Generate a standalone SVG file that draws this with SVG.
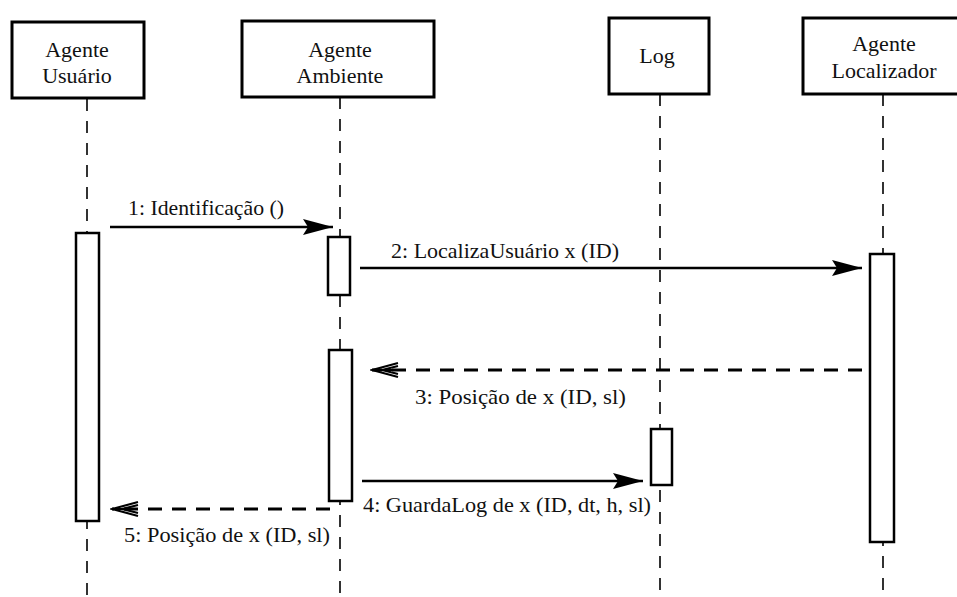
<svg xmlns="http://www.w3.org/2000/svg" width="957" height="597" viewBox="0 0 957 597">
<style>
  .head { fill: #fff; stroke: #000; stroke-width: 3; }
  .act { fill: #fff; stroke: #000; stroke-width: 2.5; }
  .life { stroke: #000; stroke-width: 1.6; stroke-dasharray: 12 10; fill: none; }
  .txt { font-family: "Liberation Serif", "Times New Roman", serif; font-size: 21px; fill: #111; }
  .h { font-size: 22px; }
  .c { text-anchor: middle; }
  .msg { stroke: #000; stroke-width: 2.5; fill: none; }
  .ret { stroke: #000; stroke-width: 3; fill: none; stroke-dasharray: 14 10; }
</style>
<defs>
  <marker id="filled" markerUnits="userSpaceOnUse" markerWidth="32" markerHeight="18" refX="30" refY="9" orient="auto">
    <path d="M0,1 L30,9 L0,17 L5,9 z" fill="#000"/>
  </marker>
  <marker id="open" markerUnits="userSpaceOnUse" markerWidth="30" markerHeight="18" refX="28" refY="9" orient="auto">
    <path d="M2,2 L28,9 L2,16 M28,9 L2,9 M2,5 L18,9 L2,13" fill="none" stroke="#000" stroke-width="2.2"/>
  </marker>
</defs>
<rect width="957" height="597" fill="#fff"/>

<g id="lifelines">
  <line class="life" x1="87" y1="99" x2="87" y2="597"/>
  <line class="life" x1="340" y1="97" x2="340" y2="597"/>
  <line class="life" x1="660" y1="94" x2="660" y2="597"/>
  <line class="life" x1="883" y1="94" x2="883" y2="597"/>
</g>

<g id="agente-usuario">
  <rect class="head" x="12" y="22" width="132" height="76"/>
  <text class="txt h c" x="77" y="57">Agente</text>
  <text class="txt h c" x="77" y="83">Usuário</text>
  <rect class="act" x="76" y="233" width="23" height="288"/>
</g>

<g id="agente-ambiente">
  <rect class="head" x="242" y="21" width="192" height="76"/>
  <text class="txt h c" x="340" y="57">Agente</text>
  <text class="txt h c" x="340" y="83">Ambiente</text>
  <rect class="act" x="328" y="237" width="22" height="58"/>
  <rect class="act" x="329" y="350" width="23" height="151"/>
</g>

<g id="log">
  <rect class="head" x="609" y="18" width="100" height="76"/>
  <text class="txt h c" x="657" y="63">Log</text>
  <rect class="act" x="651" y="429" width="21" height="56"/>
</g>

<g id="agente-localizador">
  <rect class="head" x="803" y="18" width="156" height="76"/>
  <text class="txt h c" x="884" y="51">Agente</text>
  <text class="txt h c" x="884" y="78">Localizador</text>
  <rect class="act" x="870" y="254" width="24" height="288"/>
</g>

<g id="connectors">
  <line class="msg" x1="110" y1="227" x2="333" y2="227" marker-end="url(#filled)"/>
  <text class="txt" x="128" y="215" textLength="156" lengthAdjust="spacingAndGlyphs">1: Identificação ()</text>

  <line class="msg" x1="360" y1="268" x2="862" y2="268" marker-end="url(#filled)"/>
  <text class="txt" x="391" y="258" textLength="228" lengthAdjust="spacingAndGlyphs">2: LocalizaUsuário x (ID)</text>

  <line class="ret" x1="862" y1="370" x2="372" y2="370" marker-end="url(#open)"/>
  <text class="txt" x="415" y="404" textLength="211" lengthAdjust="spacingAndGlyphs">3: Posição de x  (ID, sl)</text>

  <line class="msg" x1="362" y1="481" x2="643" y2="481" marker-end="url(#filled)"/>
  <text class="txt" x="363" y="512" textLength="288" lengthAdjust="spacingAndGlyphs">4: GuardaLog de x (ID, dt, h, sl)</text>

  <line class="ret" x1="330" y1="509" x2="112" y2="509" marker-end="url(#open)"/>
  <text class="txt" x="124" y="542" textLength="206" lengthAdjust="spacingAndGlyphs">5: Posição de x (ID, sl)</text>
</g>
</svg>
